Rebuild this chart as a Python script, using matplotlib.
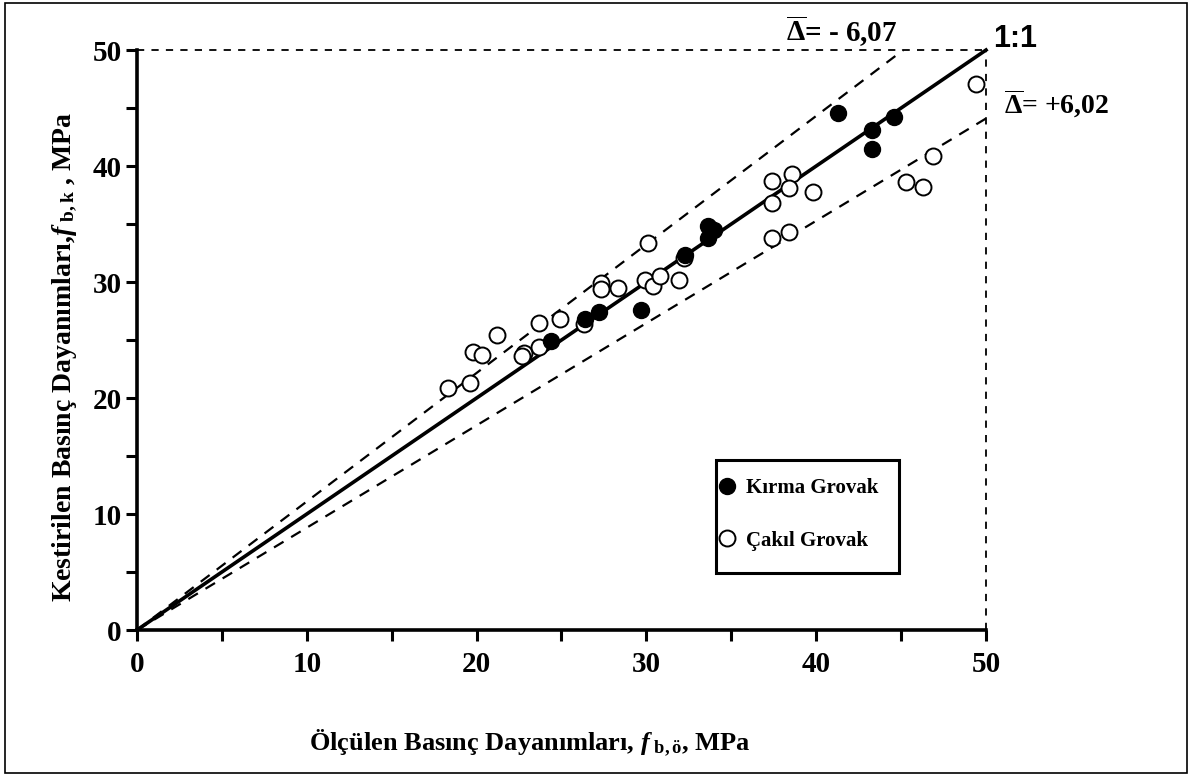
import numpy as np
import matplotlib
matplotlib.use('Agg')
import matplotlib.pyplot as plt
from matplotlib.patches import Rectangle
from matplotlib.lines import Line2D

plt.rcParams['font.family'] = 'Liberation Serif'
plt.rcParams['font.weight'] = 'bold'
plt.rcParams['mathtext.fontset'] = 'custom'
plt.rcParams['mathtext.rm'] = 'Liberation Serif:bold'
plt.rcParams['mathtext.it'] = 'Liberation Serif:bold:italic'
plt.rcParams['mathtext.bf'] = 'Liberation Serif:bold'

# Kirma Grovak (filled)
kirma_x = [41.3, 43.3, 43.3, 44.6, 33.6, 34.0, 33.6, 32.3, 27.2, 26.4, 24.4, 29.7]
kirma_y = [44.6, 43.1, 41.5, 44.2, 34.8, 34.5, 33.8, 32.3, 27.4, 26.8, 24.9, 27.6]

# Cakil Grovak (open)
cakil_x = [18.3, 19.6, 19.8, 20.3, 21.2, 22.8, 22.7, 23.7, 23.7, 24.9, 26.3,
           27.3, 27.3, 28.3, 29.9, 30.4, 30.8, 31.9, 32.2, 30.1,
           37.4, 38.6, 38.4, 39.8, 37.4, 37.4, 38.4, 45.3, 46.3, 46.9, 49.4]
cakil_y = [20.9, 21.3, 24.0, 23.7, 25.4, 23.9, 23.6, 24.4, 26.5, 26.8, 26.4,
           29.9, 29.4, 29.5, 30.2, 29.7, 30.5, 30.2, 32.1, 33.4,
           38.7, 39.3, 38.1, 37.8, 36.8, 33.8, 34.3, 38.6, 38.2, 40.9, 47.1]

upper_slope = 1.108
lower_slope = 0.882
lim = 50

fig = plt.figure(figsize=(11.92, 7.78), dpi=100)
ax = fig.add_axes([0.1149, 0.1902, 0.7123, 0.7455])

# frame around figure
fig.patches.append(Rectangle((0.004, 0.006), 0.992, 0.99, transform=fig.transFigure,
                             fill=False, edgecolor='black', linewidth=1.2))

xx = np.array([0, lim])
ax.plot(xx, xx, color='black', lw=2.6, zorder=3)
ax.plot([0, lim / upper_slope], [0, lim], color='black', lw=1.6, ls=(0, (5, 4)), zorder=2)
ax.plot(xx, xx * lower_slope, color='black', lw=1.6, ls=(0, (5, 4)), zorder=2)
ax.plot([0, lim], [lim, lim], color='black', lw=1.3, ls=(0, (4, 4)), zorder=2)
ax.plot([lim, lim], [0, lim], color='black', lw=1.3, ls=(0, (4, 4)), zorder=2)

ax.plot(cakil_x, cakil_y, 'o', ms=11.5, mfc='white', mec='black', mew=1.4, zorder=4)
ax.plot(kirma_x, kirma_y, 'o', ms=11.5, mfc='black', mec='black', zorder=5)

ax.set_xlim(0, lim)
ax.set_ylim(0, lim)
ax.set_xticks(np.arange(0, 51, 5))
ax.set_yticks(np.arange(0, 51, 5))
ax.set_xticklabels([str(v) if v % 10 == 0 else '' for v in range(0, 51, 5)])
ax.set_yticklabels([str(v) if v % 10 == 0 else '' for v in range(0, 51, 5)])
ax.tick_params(direction='out', length=8, width=2.2, labelsize=21)
ax.tick_params(axis='x', pad=7)
ax.tick_params(axis='y', pad=3)
for lab in ax.get_xticklabels() + ax.get_yticklabels():
    lab.set_fontweight('bold')
ax.spines['top'].set_visible(False)
ax.spines['right'].set_visible(False)
ax.spines['left'].set_linewidth(2.6)
ax.spines['bottom'].set_linewidth(2.6)
for l in ax.lines:
    l.set_clip_on(False)

ax.set_xlabel('Ölçülen Basınç Dayanımları, $\\mathit{f}_{\\ \\mathrm{b,ö}}$, MPa',
              fontsize=19, fontweight='bold', labelpad=36, x=0.462)
ax.set_ylabel('Kestirilen Basınç Dayanımları,$\\mathit{f}_{\\ \\mathrm{b,k}}$ , MPa',
              fontsize=20, fontweight='bold', labelpad=10, y=0.471)

ax.text(38.2, 50.7, '$\\overline{\\Delta}$= - 6,07', fontsize=21, fontweight='bold',
        ha='left', va='baseline')
ax.text(50.4, 50.25, '1:1', fontsize=22, fontweight='bold', family='Liberation Sans',
        ha='left', va='baseline')
ax.text(51.06, 44.5, '$\\overline{\\Delta}$= +6,02', fontsize=20, fontweight='bold',
        ha='left', va='baseline')

# legend box
ax.add_patch(Rectangle((0.682, 0.0983), 0.2155, 0.1948, transform=ax.transAxes,
                       fill=True, facecolor='white', edgecolor='black', lw=2.2, zorder=6))
handles = [Line2D([], [], ls='none', marker='o', ms=11.5, mfc='black', mec='black'),
           Line2D([], [], ls='none', marker='o', ms=11.5, mfc='white', mec='black', mew=1.4)]
leg = ax.legend(handles, ['Kırma Grovak', 'Çakıl Grovak'], loc='center left',
                bbox_to_anchor=(0.682, 0.199), borderaxespad=0, borderpad=0.25,
                handlelength=0.6, handletextpad=0.6, labelspacing=1.55,
                frameon=False, prop={'size': 15, 'weight': 'bold'})
leg.set_zorder(7)

fig.savefig('out.png', dpi=100)
